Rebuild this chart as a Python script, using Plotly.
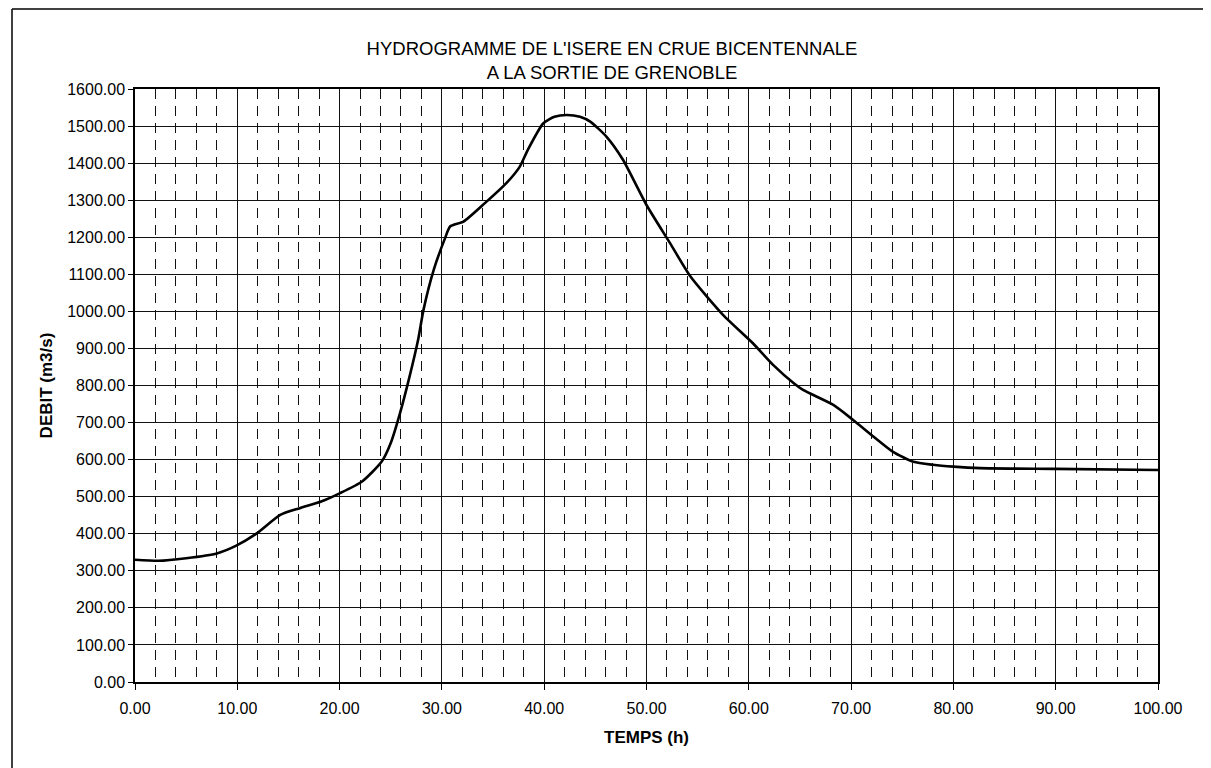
import plotly.graph_objects as go

temps_h = [0, 2.3, 5, 8, 9.9, 11.9, 14.2, 16.1, 18.2, 20.0, 22.2, 24.1, 25.0, 25.9,
           26.8, 27.7, 28.2, 29.2, 30.3, 30.8, 32.1, 34.2, 36.3, 37.6, 38.4, 39.9,
           41.0, 42.2, 43.5, 44.5, 46.1, 47.7, 50.0, 52.3, 54.3, 57.5, 60.4, 62.4,
           64.4, 65.3, 68.3, 70.2, 72.2, 74.1, 76.1, 78.0, 80.0, 82.6, 90.0, 100.0]
debit_m3s = [330, 327, 334, 347, 368, 401, 451, 469, 487, 509, 541, 594, 645, 725,
             820, 927, 1004, 1112, 1197, 1229, 1242, 1292, 1346, 1390, 1436, 1507,
             1525, 1530, 1525, 1512, 1471, 1409, 1287, 1184, 1094, 990, 914, 855,
             806, 788, 747, 707, 662, 621, 594, 586, 581, 577, 575, 572]

x_ticks = [0, 10, 20, 30, 40, 50, 60, 70, 80, 90, 100]
y_ticks = list(range(0, 1700, 100))

title_text = "HYDROGRAMME DE L'ISERE EN CRUE BICENTENNALE<br>A LA SORTIE DE GRENOBLE"
x_title = "<b>TEMPS (h)</b>"
y_title = "<b>DEBIT (m3/s)</b>"

FONT = "Liberation Sans, Arial, sans-serif"

# page is rendered with an 8px body margin
W, H = 1203, 760
L, T = 127, 81          # plot area left/top inside the figure
PW, PH = 1023, 593      # plot area size

fig = go.Figure()
fig.add_trace(go.Scatter(
    x=temps_h, y=debit_m3s, mode="lines",
    line=dict(color="black", width=2.6, shape="spline", smoothing=0.6),
    showlegend=False, hoverinfo="x+y",
))

fig.update_layout(
    width=W, height=H,
    margin=dict(l=L, r=W - L - PW, t=T, b=H - T - PH, autoexpand=False),
    paper_bgcolor="white", plot_bgcolor="white",
    font=dict(family=FONT, size=16, color="black"),
    title=dict(text=title_text, x=604 / W, xanchor="center",
               y=1 - 47 / H, yanchor="top",
               font=dict(family=FONT, size=18.5, color="black")),
    xaxis=dict(
        range=[0, 100], tickvals=x_ticks,
        ticktext=[f"{v:.2f}" for v in x_ticks],
        showgrid=True, gridcolor="#111", gridwidth=1,
        minor=dict(dtick=2, showgrid=True, gridcolor="#111", gridwidth=1.4,
                   griddash="10px,7px"),
        showline=True, linecolor="black", linewidth=1.5, mirror=True,
        ticks="outside", ticklen=6, tickcolor="black",
        ticklabelstandoff=5,
        zeroline=False,
        title=dict(text=x_title, font=dict(family=FONT, size=17), standoff=15),
    ),
    yaxis=dict(
        range=[0, 1600], tickvals=y_ticks,
        ticktext=[f"{v:.2f}" for v in y_ticks],
        showgrid=True, gridcolor="#111", gridwidth=1,
        showline=True, linecolor="black", linewidth=1.5, mirror=True,
        ticks="outside", ticklen=5, tickcolor="black",
        zeroline=False,
        title=dict(text=y_title, font=dict(family=FONT, size=17), standoff=10),
    ),
)

# scanned page frame (top and left edges), figure px -> paper coords
def px_x(px):
    return (px - L) / PW

def px_y(py):
    return (T + PH - py) / PH

fig.add_shape(type="line", xref="paper", yref="paper",
              x0=px_x(4), x1=px_x(W), y0=px_y(1), y1=px_y(1),
              line=dict(color="black", width=1.5))
fig.add_shape(type="line", xref="paper", yref="paper",
              x0=px_x(4), x1=px_x(4), y0=px_y(1), y1=px_y(H),
              line=dict(color="black", width=1.5))

fig.write_html("out.html")
